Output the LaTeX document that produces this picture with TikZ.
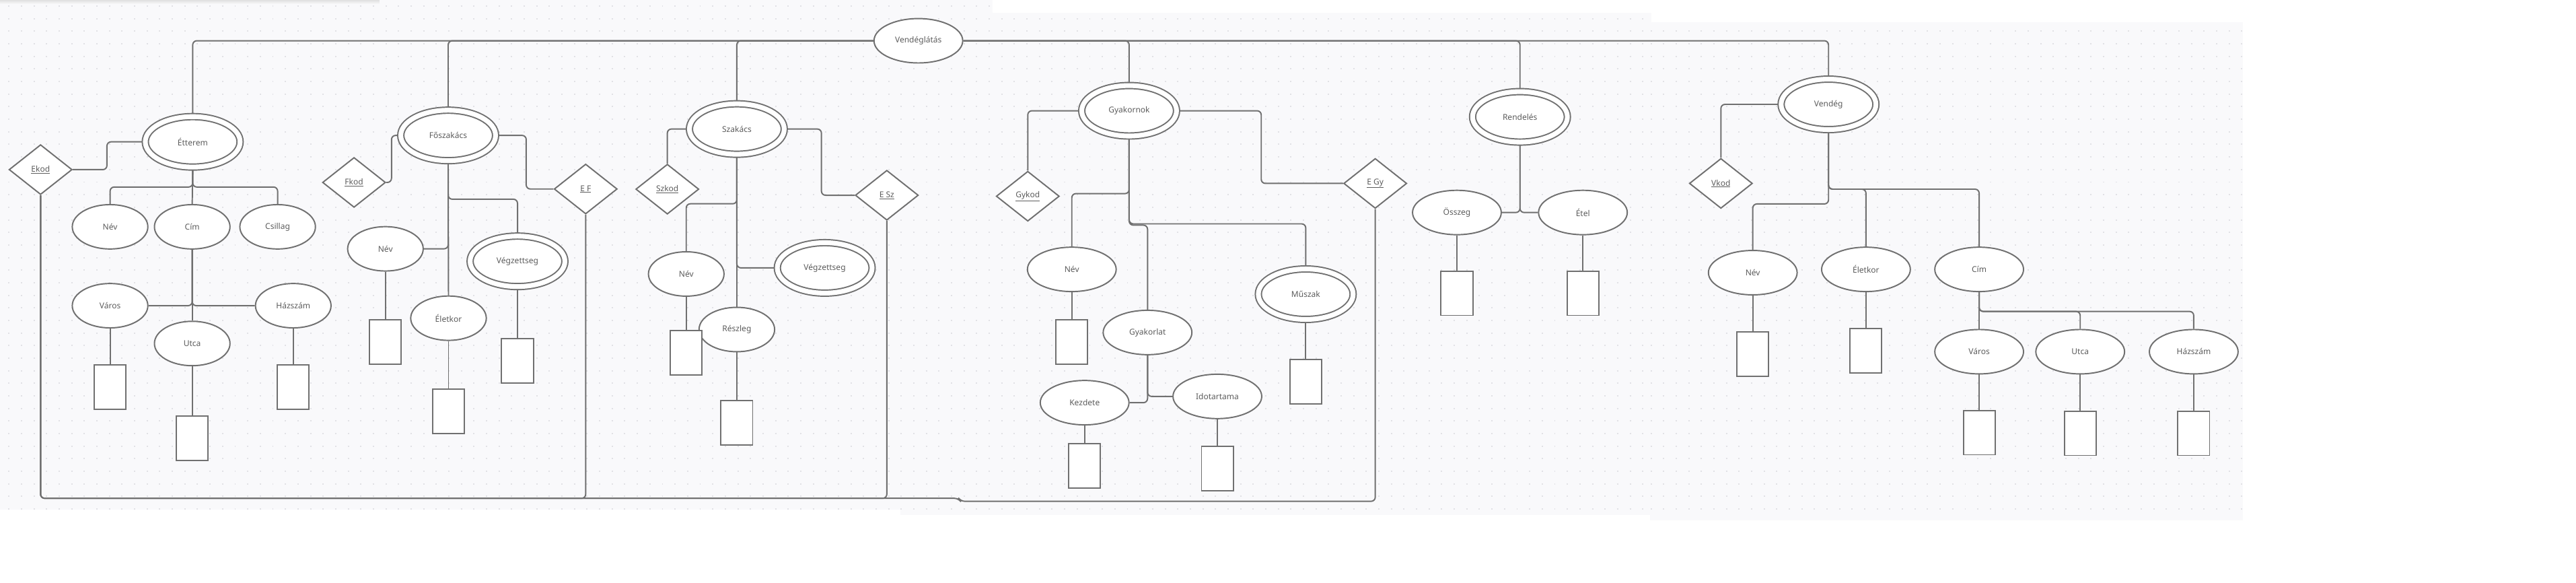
\documentclass[tikz,border=0pt]{standalone}
\usepackage{fontspec}
\setmainfont{Noto Sans}
\usetikzlibrary{shapes.geometric}
\usepackage{xcolor}
\definecolor{erline}{HTML}{707070}
\definecolor{ertext}{HTML}{5C5C5C}
\definecolor{bgpaper}{HTML}{F9F9FB}
\definecolor{bgdot}{HTML}{E1E1E5}

\begin{document}
\begin{tikzpicture}[x=1mm,y=-1mm]
\useasboundingbox (0,0) rectangle (1568,354.7);

\tikzset{attr/.style = {shape=ellipse,draw=erline,fill=white,line width=0.8mm,minimum width=46mm,minimum height=27mm,inner sep=1pt,font=\fontsize{14}{16}\selectfont,text=ertext}}
\tikzset{attrw/.style = {attr,minimum width=54mm}}
\tikzset{entity/.style = {attr,double=white,double distance=2.9mm,minimum width=57.7mm,minimum height=30.7mm,outer sep=1.85mm}}
\tikzset{keyattr/.style = {shape=diamond,draw=erline,fill=white,line width=0.8mm,minimum width=38.4mm,minimum height=30.4mm,inner sep=1pt,font=\fontsize{14}{16}\selectfont,text=ertext}}
\tikzset{valbox/.style = {shape=rectangle,draw=erline,fill=white,line width=0.8mm,minimum width=19.3mm,minimum height=27mm}}
\tikzset{link/.style = {draw=erline,line width=0.8mm,rounded corners=2.5mm}}
\tikzset{dotrow/.style = {draw=bgdot,line width=0.8mm,dash pattern=on 0.8mm off 6.85mm}}

%background
\fill[bgpaper] (0,0) rectangle (604,310);
\fill[bgpaper] (548,7.8) rectangle (1005,313.5);
\fill[bgpaper] (1004.5,13.6) rectangle (1365.3,316.8);
\shade[top color=black!12,bottom color=bgpaper] (0,0) rectangle (231,2.5);
\begin{scope}
\clip (0,0) rectangle (604,310);
\foreach \r in {0,...,41} \draw[dotrow] (5.05,3.7+7.65*\r) -- (610,3.7+7.65*\r);
\end{scope}
\begin{scope}
\clip (548,7.8) rectangle (1005,313.5);
\foreach \r in {0,...,41} \draw[dotrow] (5.05,3.7+7.65*\r) -- (1010,3.7+7.65*\r);
\end{scope}
\begin{scope}
\clip (1004.5,13.6) rectangle (1365.3,316.8);
\foreach \r in {0,...,41} \draw[dotrow] (1004.6,3.7+7.65*\r) -- (1370,3.7+7.65*\r);
\end{scope}

\node[attrw] (vend) at (559,24.8) {Vendéglátás};

% Étterem
\node[entity] (etterem) at (117.3,86.3) {Étterem};
\node[keyattr] (ekod) at (24.7,103.2) {\underline{Ekod}};
\node[keyattr] (ef) at (356.5,115) {\underline{E F}};
\node[attr] (enev) at (67,138) {Név};
\node[attr] (ecim) at (117,138) {Cím};
\node[attr] (ecsillag) at (169,138) {Csillag};
\node[attr] (evaros) at (67,186) {Város};
\node[attr] (eutca) at (117,209) {Utca};
\node[attr] (ehazszam) at (178.5,186) {Házszám};
\node[valbox] (evarosv) at (67,235.7) {};
\node[valbox] (eutcav) at (117,266.5) {};
\node[valbox] (ehazszamv) at (178.5,235.7) {};

% Főszakács
\node[entity] (fosz) at (272.8,82.4) {Főszakács};
\node[keyattr] (fkod) at (215.5,111) {\underline{Fkod}};
\node[attr] (fnev) at (234.6,151.4) {Név};
\node[attr] (feletkor) at (273,193.6) {Életkor};
\node[entity] (fvegz) at (315,159) {Végzettseg};
\node[valbox] (fnevv) at (234.6,208.1) {};
\node[valbox] (feletkorv) at (273,250.1) {};
\node[valbox] (fvegzv) at (315,219.4) {};

% Szakács
\node[entity] (szak) at (448.5,78.5) {Szakács};
\node[keyattr] (szkod) at (406.2,115.1) {\underline{Szkod}};
\node[keyattr] (esz) at (539.8,118.8) {\underline{E Sz}};
\node[attr] (sznev) at (417.7,166.7) {Név};
\node[entity] (szvegz) at (502,163) {Végzettseg};
\node[attr] (szreszleg) at (448.5,200.5) {Részleg};
\node[valbox] (sznevv) at (417.7,214.7) {};
\node[valbox] (szreszlegv) at (448.5,257.1) {};

% Gyakornok
\node[entity] (gyak) at (687.3,67.4) {Gyakornok};
\node[keyattr] (gykod) at (625.6,119.4) {\underline{Gykod}};
\node[keyattr] (egy) at (837.1,111.6) {\underline{E Gy}};
\node[attrw] (gynev) at (652.4,163.9) {Név};
\node[attrw] (gyakorlat) at (698.5,202.3) {Gyakorlat};
\node[attrw] (kezdete) at (660.2,245) {Kezdete};
\node[attrw] (idotartama) at (741,241.2) {Idotartama};
\node[entity] (muszak) at (794.8,179) {Műszak};
\node[valbox] (gynevv) at (652.4,208.1) {};
\node[valbox] (kezdetev) at (660.2,283.3) {};
\node[valbox] (idotartamav) at (741,285.1) {};
\node[valbox] (muszakv) at (794.8,232.1) {};

% Rendelés
\node[entity] (rend) at (925.2,71.1) {Rendelés};
\node[attrw] (osszeg) at (886.8,129.3) {Összeg};
\node[attrw] (etel) at (963.5,129.3) {Étel};
\node[valbox] (osszegv) at (886.8,178.4) {};
\node[valbox] (etelv) at (963.5,178.4) {};

% Vendég
\node[entity] (vendeg) at (1113,63.5) {Vendég};
\node[keyattr] (vkod) at (1047.5,111.6) {\underline{Vkod}};
\node[attrw] (vnev) at (1066.9,165.9) {Név};
\node[attrw] (veletkor) at (1135.8,163.9) {Életkor};
\node[attrw] (vcim) at (1204.7,163.9) {Cím};
\node[attrw] (vvaros) at (1204.7,214) {Város};
\node[attrw] (vutca) at (1266.2,214) {Utca};
\node[attrw] (vhazszam) at (1335.3,214) {Házszám};
\node[valbox] (vnevv) at (1066.9,215.5) {};
\node[valbox] (veletkorv) at (1135.8,213.5) {};
\node[valbox] (vvarosv) at (1204.7,263.2) {};
\node[valbox] (vutcav) at (1266.2,263.6) {};
\node[valbox] (vhazszamv) at (1335.3,263.6) {};

\coordinate (bot) at (0,303.2);
\coordinate (jog) at (583.5,303.2);

%edges
\draw[link] (vend.west) -| (etterem.north);
\draw[link] (vend.west) -| (fosz.north);
\draw[link] (vend.west) -| (szak.north);
\draw[link] (vend.east) -| (gyak.north);
\draw[link] (vend.east) -| (rend.north);
\draw[link] (vend.east) -| (vendeg.north);

\draw[link] (ekod.east) -- ++(20.8,0) |- (etterem.west);
\draw[link] (ekod.south) -- (ekod.south |- bot) -| (ef.south);
\draw[link] (ekod.south) -- (ekod.south |- bot) -| (esz.south);
\draw[link] (ekod.south) -- (ekod.south |- bot) -- (jog) -- ++(1.2,1.8) -| (egy.south);
\draw[link] (etterem.south) -- (ecim.north);
\draw[link] (etterem.south) -- ++(0,10.3) -| (enev.north);
\draw[link] (etterem.south) -- ++(0,10.3) -| (ecsillag.north);
\draw[link] (ecim.south) -- (eutca.north);
\draw[link] (evaros.east) -| (ecim.south);
\draw[link] (ehazszam.west) -| (ecim.south);
\draw[link] (evaros) -- (evarosv);
\draw[link] (eutca) -- (eutcav);
\draw[link] (ehazszam) -- (ehazszamv);

\draw[link] (fkod.east) -- ++(3.2,0) |- (fosz.west);
\draw[link] (fosz.east) -- ++(16.8,0) |- (ef.west);
\draw[link] (fosz.south) -- (feletkor.north);
\draw[link] (fosz.south) -- ++(0,21.6) -| (fvegz.north);
\draw[link] (fnev.east) -| (fosz.south);
\draw[link] (fnev) -- (fnevv);
\draw[link] (feletkor) -- (feletkorv);
\draw[link] (fvegz) -- (fvegzv);

\draw[link] (szkod.north) |- (szak.west);
\draw[link] (szak.east) -- ++(20.8,0) |- (esz.west);
\draw[link] (szak.south) -- (szreszleg.north);
\draw[link] (szak.south) -- ++(0,28.3) -| (sznev.north);
\draw[link] (szvegz.west) -| (szak.south);
\draw[link] (sznev) -- (sznevv);
\draw[link] (szreszleg) -- (szreszlegv);

\draw[link] (gykod.north) |- (gyak.west);
\draw[link] (gyak.east) -- ++(49.7,0) |- (egy.west);
\draw[link] (gyak.south) -- ++(0,33.2) -| (gynev.north);
\draw[link] (gyak.south) -- ++(0,51.6) -| (muszak.north);
\draw[link] (gyak.south) -- ++(0,52.4) -| (gyakorlat.north);
\draw[link] (kezdete.east) -| (gyakorlat.south);
\draw[link] (idotartama.west) -| (gyakorlat.south);
\draw[link] (gynev) -- (gynevv);
\draw[link] (kezdete) -- (kezdetev);
\draw[link] (idotartama) -- (idotartamav);
\draw[link] (muszak) -- (muszakv);

\draw[link] (osszeg.east) -| (rend.south);
\draw[link] (etel.west) -| (rend.south);
\draw[link] (osszeg) -- (osszegv);
\draw[link] (etel) -- (etelv);

\draw[link] (vkod.north) |- (vendeg.west);
\draw[link] (vendeg.south) -- ++(0,43.4) -| (vnev.north);
\draw[link] (vendeg.south) -- ++(0,34.4) -| (veletkor.north);
\draw[link] (vendeg.south) -- ++(0,34.4) -| (vcim.north);
\draw[link] (vcim.south) -- (vvaros.north);
\draw[link] (vcim.south) -- ++(0,11.7) -| (vutca.north);
\draw[link] (vcim.south) -- ++(0,11.7) -| (vhazszam.north);
\draw[link] (vnev) -- (vnevv);
\draw[link] (veletkor) -- (veletkorv);
\draw[link] (vvaros) -- (vvarosv);
\draw[link] (vutca) -- (vutcav);
\draw[link] (vhazszam) -- (vhazszamv);
\end{tikzpicture}
\end{document}
